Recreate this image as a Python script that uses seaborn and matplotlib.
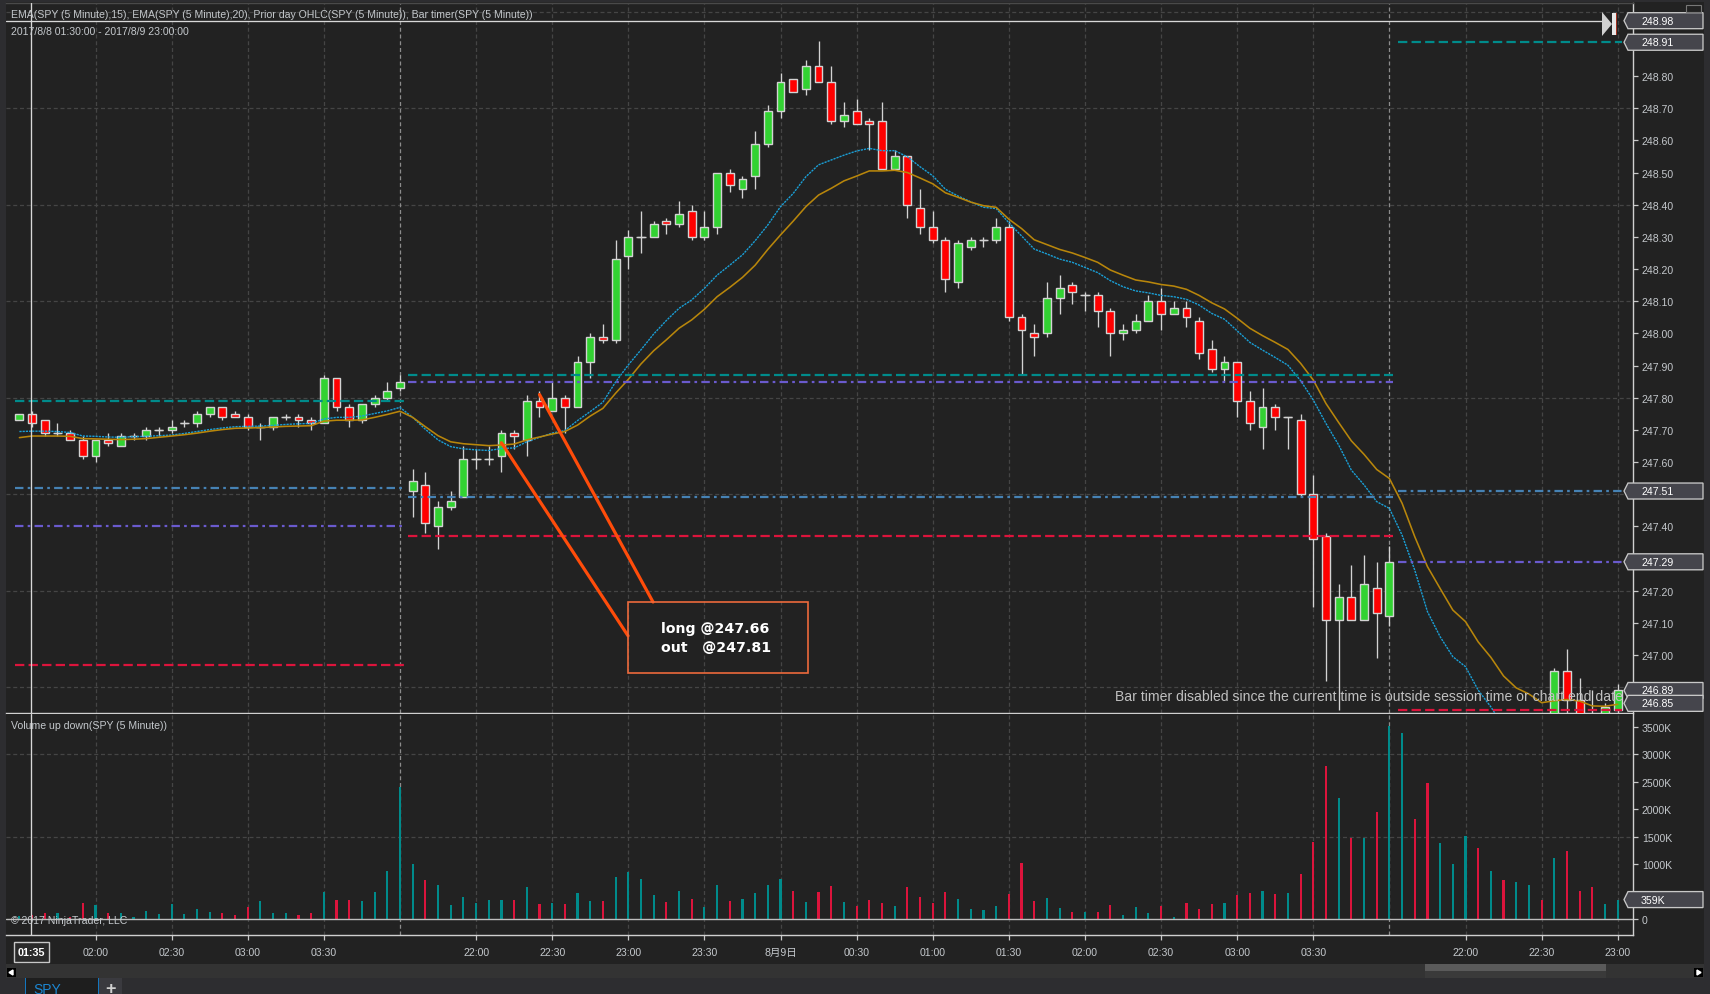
import numpy as np
import pandas as pd
import matplotlib
matplotlib.use("Agg")
import matplotlib.pyplot as plt
import seaborn as sns
from matplotlib.patches import Polygon, Rectangle
from matplotlib.transforms import IdentityTransform

# SPY 5 minute bars (None = below the visible price range)
opens = [247.73, 247.75, 247.73, 247.69, 247.69, 247.67, 247.62, 247.67, 247.65, 247.68,
         247.68, 247.70, 247.70, 247.72, 247.72, 247.75, 247.77, 247.75, 247.74, 247.71,
         247.71, 247.74, 247.74, 247.73, 247.72, 247.86, 247.77, 247.73, 247.78, 247.80,
         247.83, 247.51, 247.53, 247.40, 247.46, 247.49, 247.61, 247.61, 247.62, 247.69,
         247.67, 247.79, 247.76, 247.80, 247.77, 247.91, 247.99, 247.98, 248.24, 248.30,
         248.30, 248.35, 248.34, 248.38, 248.30, 248.33, 248.50, 248.45, 248.49, 248.59,
         248.69, 248.79, 248.76, 248.83, 248.78, 248.66, 248.69, 248.66, 248.66, 248.51,
         248.55, 248.39, 248.33, 248.29, 248.16, 248.27, 248.29, 248.29, 248.33, 248.05,
         248.00, 248.00, 248.11, 248.15, 248.12, 248.12, 248.07, 248.00, 248.01, 248.04,
         248.10, 248.06, 248.08, 248.04, 247.95, 247.89, 247.91, 247.79, 247.71, 247.77,
         247.74, 247.73, 247.50, 247.37, 247.11, 247.18, 247.11, 247.21, 247.12,
         None, None, None, None, None, None, None, None, None, None, None, None,
         246.80, 246.95, 246.86, 246.81, 246.80, 246.83]
highs = [247.75, 247.76, 247.73, 247.72, 247.70, 247.68, 247.67, 247.69, 247.69, 247.69,
         247.71, 247.71, 247.73, 247.73, 247.76, 247.77, 247.77, 247.76, 247.75, 247.72,
         247.74, 247.75, 247.75, 247.74, 247.87, 247.86, 247.78, 247.78, 247.81, 247.85,
         247.87, 247.58, 247.57, 247.48, 247.51, 247.65, 247.64, 247.65, 247.70, 247.70,
         247.81, 247.82, 247.85, 247.81, 247.93, 248.00, 248.03, 248.29, 248.32, 248.38,
         248.35, 248.36, 248.41, 248.40, 248.38, 248.50, 248.51, 248.49, 248.63, 248.71,
         248.81, 248.79, 248.85, 248.91, 248.83, 248.72, 248.73, 248.67, 248.72, 248.57,
         248.55, 248.45, 248.38, 248.30, 248.29, 248.30, 248.30, 248.36, 248.35, 248.06,
         248.03, 248.16, 248.18, 248.16, 248.13, 248.13, 248.08, 248.03, 248.06, 248.12,
         248.14, 248.10, 248.10, 248.05, 247.98, 247.93, 247.91, 247.82, 247.83, 247.78,
         247.74, 247.75, 247.56, 247.38, 247.22, 247.28, 247.31, 247.29, 247.34,
         None, None, None, None, None, None, None, None, None, None, None, None,
         246.96, 247.02, 246.93, 246.89, 246.85, 246.91]
lows = [247.73, 247.71, 247.68, 247.68, 247.67, 247.61, 247.60, 247.65, 247.65, 247.67,
        247.67, 247.68, 247.69, 247.71, 247.71, 247.74, 247.73, 247.74, 247.70, 247.67,
        247.70, 247.73, 247.71, 247.70, 247.72, 247.76, 247.71, 247.72, 247.77, 247.79,
        247.82, 247.43, 247.38, 247.33, 247.45, 247.49, 247.58, 247.59, 247.57, 247.64,
        247.62, 247.74, 247.76, 247.69, 247.77, 247.86, 247.97, 247.97, 248.20, 248.25,
        248.30, 248.31, 248.33, 248.29, 248.29, 248.31, 248.44, 248.42, 248.45, 248.58,
        248.67, 248.75, 248.74, 248.78, 248.65, 248.64, 248.65, 248.57, 248.51, 248.51,
        248.36, 248.31, 248.28, 248.13, 248.14, 248.26, 248.27, 248.28, 248.04, 247.87,
        247.93, 247.99, 248.06, 248.09, 248.07, 248.02, 247.93, 247.98, 248.00, 248.04,
        248.01, 248.06, 248.02, 247.92, 247.88, 247.85, 247.74, 247.70, 247.64, 247.70,
        247.64, 247.49, 247.15, 246.92, 246.83, 247.11, 247.11, 246.99, 247.09,
        None, None, None, None, None, None, None, None, None, None, None, None,
        246.79, 246.79, 246.79, 246.79, 246.79, 246.82]
closes = [247.75, 247.72, 247.69, 247.69, 247.67, 247.62, 247.67, 247.66, 247.68, 247.68,
          247.70, 247.70, 247.71, 247.72, 247.75, 247.77, 247.74, 247.74, 247.71, 247.71,
          247.74, 247.74, 247.73, 247.72, 247.86, 247.77, 247.73, 247.78, 247.80, 247.82,
          247.85, 247.54, 247.41, 247.46, 247.48, 247.61, 247.61, 247.61, 247.69, 247.68,
          247.79, 247.77, 247.80, 247.77, 247.91, 247.99, 247.98, 248.23, 248.30, 248.30,
          248.34, 248.34, 248.37, 248.30, 248.33, 248.50, 248.46, 248.48, 248.59, 248.69,
          248.78, 248.75, 248.83, 248.78, 248.66, 248.68, 248.65, 248.65, 248.51, 248.55,
          248.40, 248.33, 248.29, 248.17, 248.28, 248.29, 248.29, 248.33, 248.05, 248.01,
          247.99, 248.11, 248.14, 248.13, 248.12, 248.07, 248.00, 248.01, 248.04, 248.10,
          248.06, 248.08, 248.05, 247.94, 247.89, 247.91, 247.79, 247.72, 247.77, 247.74,
          247.74, 247.50, 247.36, 247.11, 247.18, 247.11, 247.22, 247.13, 247.29,
          None, None, None, None, None, None, None, None, None, None, None, None,
          246.95, 246.86, 246.80, 246.80, 246.84, 246.89]

ema15 = [247.695, 247.696, 247.696, 247.695, 247.692, 247.681, 247.680, 247.678, 247.677, 247.679,
         247.680, 247.682, 247.684, 247.689, 247.695, 247.701, 247.706, 247.710, 247.711, 247.712,
         247.714, 247.717, 247.719, 247.720, 247.734, 247.739, 247.739, 247.743, 247.751, 247.759,
         247.770, 247.739, 247.702, 247.669, 247.648, 247.641, 247.638, 247.636, 247.642, 247.644,
         247.663, 247.677, 247.690, 247.698, 247.729, 247.757, 247.786, 247.849, 247.902, 247.949,
         247.998, 248.040, 248.078, 248.104, 248.140, 248.181, 248.212, 248.244, 248.288, 248.337,
         248.394, 248.435, 248.487, 248.524, 248.539, 248.554, 248.567, 248.575, 248.568, 248.568,
         248.549, 248.518, 248.490, 248.448, 248.427, 248.409, 248.392, 248.388, 248.344, 248.303,
         248.262, 248.247, 248.231, 248.221, 248.205, 248.189, 248.164, 248.145, 248.132, 248.126,
         248.118, 248.114, 248.106, 248.088, 248.062, 248.044, 248.008, 247.972, 247.948, 247.925,
         247.901, 247.853, 247.793, 247.720, 247.653, 247.575, 247.529, 247.477, 247.456, 247.373,
         247.264, 247.135, 247.057, 246.995, 246.964, 246.891, 246.839, 246.777,
         None, None, None, None, None, None, None, None, None]
ema20 = [247.676, 247.681, 247.681, 247.681, 247.680, 247.673, 247.672, 247.671, 247.670, 247.671,
         247.673, 247.677, 247.681, 247.685, 247.690, 247.696, 247.701, 247.705, 247.706, 247.707,
         247.709, 247.711, 247.712, 247.713, 247.727, 247.730, 247.730, 247.731, 247.739, 247.748,
         247.758, 247.739, 247.710, 247.682, 247.663, 247.657, 247.654, 247.651, 247.653, 247.656,
         247.669, 247.678, 247.687, 247.695, 247.715, 247.743, 247.767, 247.814, 247.857, 247.905,
         247.946, 247.980, 248.016, 248.042, 248.075, 248.114, 248.143, 248.174, 248.212, 248.261,
         248.306, 248.349, 248.394, 248.430, 248.451, 248.474, 248.489, 248.505, 248.505, 248.507,
         248.500, 248.483, 248.465, 248.437, 248.423, 248.408, 248.397, 248.392, 248.355, 248.326,
         248.291, 248.276, 248.261, 248.250, 248.236, 248.221, 248.197, 248.181, 248.166, 248.160,
         248.152, 248.147, 248.137, 248.118, 248.095, 248.076, 248.047, 248.016, 247.993, 247.972,
         247.950, 247.907, 247.855, 247.782, 247.723, 247.666, 247.624, 247.577, 247.549, 247.472,
         247.368, 247.275, 247.207, 247.140, 247.104, 247.041, 246.993, 246.935, 246.898, 246.879,
         246.852, 246.858, 246.862, 246.857, 246.842, 246.841, 246.847]

volumes = [60, 79, 115, 115, 50, 298, 261, 115, 115, 43, 152, 97, 280, 97, 189, 134, 115, 79, 225, 335,
           115, 115, 79, 115, 500, 353, 353, 335, 500, 883, 2400, 1011, 719, 627, 262, 408, 298, 353, 353, 353,
           590, 280, 298, 280, 481, 335, 335, 773, 865, 737, 445, 317, 518, 371, 225, 627, 335, 371, 481, 627,
           737, 518, 315, 497, 606, 315, 242, 351, 297, 242, 588, 406, 297, 497, 370, 188, 170, 242, 461, 1024,
           333, 388, 206, 133, 133, 133, 261, 79, 224, 115, 242, 42, 297, 188, 279, 297, 442, 479, 515, 461,
           479, 824, 1406, 2788, 2206, 1479, 1479, 1951, 3515, 3388, 1824, 2479, 1388, 1006, 1515, 1297, 879, 715, 679, 624,
           351, 1115, 1242, 515, 588, 279, 359]
vol_dir = ("u d d u d d u d u u  u u u u u u d d d u  u u d d u d d u u u  u u d u u u u u u d "
           "u d u d u u d u u u  u d u d u u d u u u  u d u d d u d d d u  d d d d u u u u d d "
           "d u u d u d d u u u  d u d d d u d d u d  u d d d u d u d u u  d d u u u d u d u u "
           "d u d d d u u").split()

# prior day OHLC levels per session
level_values_1 = [247.79, 247.52, 247.40, 246.97]
level_values_2 = [247.87, 247.85, 247.49, 247.37]
level_values_3 = [248.905, 247.29, 247.51, 246.83]
level_colors_1 = ["#008b8b", "#4682b4", "#6a5acd", "#dc143c"]
level_colors_2 = ["#008b8b", "#6a5acd", "#4682b4", "#dc143c"]
level_colors_3 = ["#008b8b", "#6a5acd", "#4682b4", "#dc143c"]

# labels at 247.30 and 247.50 sit behind the price flags in the reference
price_ticks = [247.00, 247.10, 247.20, 247.40, 247.60, 247.70, 247.80, 247.90,
               248.00, 248.10, 248.20, 248.30, 248.40, 248.50, 248.60, 248.70, 248.80]
price_grid = [246.90, 247.20, 247.50, 247.80, 248.10, 248.40, 248.70, 249.00]
vol_ticks = [0, 1000, 1500, 2000, 2500, 3000, 3500]
vol_grid = [1500, 3000]
time_pos = [6, 12, 18, 24, 36, 42, 48, 54, 60, 66, 72, 78, 84, 90, 96, 102, 114, 120, 126]
time_labels = ["02:00", "02:30", "03:00", "03:30", "22:00", "22:30", "23:00", "23:30", "8月9日", "00:30",
               "01:00", "01:30", "02:00", "02:30", "03:00", "03:30", "22:00", "22:30", "23:00"]
session_breaks = [30, 108]
price_flags = [(248.972, "248.98"), (248.905, "248.91"), (247.51, "247.51"), (247.29, "247.29"),
               (246.89, "246.89"), (246.85, "246.85")]

W, H = 1710, 995
BG = "#222222"
OUTER = "#2d2d30"
TXT = "#c4c8cc"

df = pd.DataFrame({"open": opens, "high": highs, "low": lows, "close": closes,
                   "ema15": ema15, "ema20": ema20}, dtype=float)
df["bar"] = np.arange(len(df))
vol_df = pd.DataFrame({"bar": np.arange(len(volumes)), "volume": volumes, "dir": vol_dir})

sns.set_theme(style="dark")
plt.rcParams["font.family"] = ["Liberation Sans", "Noto Sans CJK SC", "DejaVu Sans"]
plt.rcParams["axes.unicode_minus"] = False

fig = plt.figure(figsize=(W / 100, H / 100), dpi=100, facecolor=OUTER)
ident = IdentityTransform()


def px_rect(x0, y0, x1, y1, color, z=-1, **kw):
    fig.add_artist(Rectangle((x0, H - y1), x1 - x0, y1 - y0, facecolor=color, transform=ident,
                             zorder=z, **kw))


def px_text(x, y, s, **kw):
    kw.setdefault("color", TXT)
    kw.setdefault("fontsize", 7.58)
    fig.text(x / W, 1 - y / H, s, va="center", zorder=6, **kw)


px_rect(6, 3, 1704, 965, BG, linewidth=0)

ax = fig.add_axes([6 / W, 1 - 714 / H, 1626.7 / W, 710 / H], facecolor=BG)
ax_vol = fig.add_axes([6 / W, 1 - 936 / H, 1626.7 / W, 221 / H], facecolor=BG)
xlim = (-1.056, 127.18)
grid_kw = dict(color="#454545", linewidth=0.9, linestyles=(0, (3.2, 2.2)), zorder=0)

# candles
up = df["close"] >= df["open"]
ax.vlines(df["bar"], df["low"], df["high"], color="#d3d3d3", linewidth=0.95, zorder=2)
ax.bar(df["bar"], (df["close"] - df["open"]).abs(), bottom=df[["open", "close"]].min(axis=1),
       width=0.62, color=np.where(up, "#32d232", "#ff0000"), edgecolor="#d3d3d3", linewidth=1.0, zorder=3)
doji = df[df["open"] == df["close"]]
ax.hlines(doji["close"], doji["bar"] - 0.36, doji["bar"] + 0.36, color="#d3d3d3", linewidth=0.95, zorder=3)

# moving averages
sns.lineplot(data=df, x="bar", y="ema15", ax=ax, color="#1a9fd6", linewidth=1.0, linestyle=(0, (1.6, 0.7)),
             errorbar=None, estimator=None, zorder=4)
sns.lineplot(data=df, x="bar", y="ema20", ax=ax, color="#b8860b", linewidth=1.15,
             errorbar=None, estimator=None, zorder=4)

# prior day levels
dash = (0, (4.2, 1.9))
dashdot = (0, (3.8, 1.9, 1.2, 1.9))


def draw_levels(values, colors, x0, x1):
    for v, c in zip(values, colors):
        style = dash if c in ("#008b8b", "#dc143c") else dashdot
        ax.plot([x0, x1], [v, v], color=c, linewidth=1.6, linestyle=style, zorder=5)


draw_levels(level_values_1, level_colors_1, -0.35, 30.3)
draw_levels(level_values_2, level_colors_2, 30.65, 108.3)
draw_levels(level_values_3, level_colors_3, 108.7, 126.3)

# trade annotation
ax.plot([38, 47.98], [247.66, 247.06], color="#ff4c0a", linewidth=2.3, zorder=6, solid_capstyle="round")
ax.plot([41, 49.95], [247.81, 247.165], color="#ff4c0a", linewidth=2.3, zorder=6, solid_capstyle="round")
ax.add_patch(Rectangle((47.98, 246.944), 14.19, 0.221, facecolor="none", edgecolor="#ec6a3c", linewidth=1.2, zorder=6))
ax.text(50.6, 247.055, "long @247.66\nout   @247.81", color="white", fontsize=10.2, fontweight="bold",
        ha="left", va="center", family=["DejaVu Sans"], linespacing=1.4, zorder=7)

# volume
sns.barplot(data=vol_df, x="bar", y="volume", hue="dir", palette={"u": "#008b8b", "d": "#dc143c"},
            native_scale=True, width=0.17, dodge=False, legend=False, saturation=1, linewidth=0, ax=ax_vol, zorder=3)
ax_vol.axhline(0, color="#bdbdbd", linewidth=1.0, zorder=4)

# grid and axes
for a in (ax, ax_vol):
    a.set_xlim(xlim)
    a.vlines(time_pos, 0, 1, transform=a.get_xaxis_transform(), **grid_kw)
    a.vlines(session_breaks, 0, 1, transform=a.get_xaxis_transform(), color="#8c8c8c", linewidth=0.9,
             linestyles=(0, (3.2, 2.2)), zorder=1)
    a.axvline(0.88, color="#d8d8d8", linewidth=0.95, zorder=8)
    a.set_xlabel("")
    a.set_ylabel("")
    for s in a.spines.values():
        s.set_color("#d0d0d0")
        s.set_linewidth(1.0)
    a.spines["left"].set_visible(False)
    a.yaxis.tick_right()
    a.tick_params(axis="y", colors=TXT, labelsize=7.6, length=3.6, width=0.9, pad=3, color="#c8c8c8", right=True)

ax.set_ylim(246.82, 249.027)
ax.hlines(price_grid, 0, 1, transform=ax.get_yaxis_transform(), **grid_kw)
ax.set_yticks(price_ticks, [f"{v:.2f}" for v in price_ticks])
ax.set_xticks([])
ax.spines["top"].set_color("#4a4a4a")
ax.plot([-1.056, 125.2], [248.972, 248.972], color="#d8d8d8", linewidth=0.95, zorder=8)

ax_vol.set_ylim(-285, 3733)
ax_vol.hlines(vol_grid, 0, 1, transform=ax_vol.get_yaxis_transform(), **grid_kw)
ax_vol.set_yticks(vol_ticks, ["0"] + [f"{v}K" for v in vol_ticks[1:]])
ax_vol.set_xticks(time_pos, time_labels)
ax_vol.tick_params(axis="x", colors=TXT, labelsize=7.6, length=3.6, width=0.9, pad=5, color="#c8c8c8", bottom=True)
ax_vol.spines["top"].set_visible(False)

fig.canvas.draw()


def flag(a, value, label):
    y = a.transData.transform((0, value))[1]
    pts = [(1624, y), (1628, y + 8), (1703, y + 8), (1703, y - 8), (1628, y - 8)]
    fig.add_artist(Polygon(pts, closed=True, facecolor="#45454c", edgecolor="#c8c8c8", linewidth=0.95,
                           transform=ident, zorder=5))
    fig.text(1641 / W, y / H, label, color="white", fontsize=7.6, va="center", zorder=6)


for v, t in price_flags:
    flag(ax, v, t)
flag(ax_vol, 359, "359K")

# bar marker next to the last price line
y_last = H - 25
fig.add_artist(Polygon([(1602, y_last + 12), (1612, y_last), (1602, y_last - 12)], closed=True, facecolor="#d0d0d0",
                       edgecolor="none", transform=ident, zorder=5))
px_rect(1612, 14, 1616, 36, "#e8e8e8", z=5, linewidth=0)
px_rect(1616, 14, 1617, 36, "#a03020", z=5, linewidth=0)
fig.add_artist(Rectangle((1686, H - 13), 15, 7, facecolor="none", edgecolor="#777777", linewidth=0.8,
                         transform=ident, zorder=5))

# header and footer text
px_text(11, 15, "EMA(SPY (5 Minute),15), EMA(SPY (5 Minute),20), Prior day OHLC(SPY (5 Minute)), Bar timer(SPY (5 Minute))")
px_text(11, 32, "2017/8/8 01:30:00 - 2017/8/9 23:00:00")
px_text(11, 726, "Volume up down(SPY (5 Minute))")
px_text(11, 921, "© 2017 NinjaTrader, LLC")
px_text(1115, 697, "Bar timer disabled since the current time is outside session time or chart end date",
        fontsize=10.05, color="#c0c0c0")

# time cursor box
fig.add_artist(Rectangle((13.5, H - 963), 35, 20, facecolor="#2a2a2a", edgecolor="#c8c8c8", linewidth=1.0,
                         transform=ident, zorder=5))
px_text(31, 953, "01:35", color="white", fontsize=7.8, fontweight="bold", ha="center")

# scroll bar and tabs
px_rect(6, 965, 1704, 979, "#333333", linewidth=0)
px_rect(1425, 965, 1606, 972, "#5a5a5a", z=0, linewidth=0)
px_rect(1425, 972, 1606, 979, "#3a3a3a", z=0, linewidth=0)
px_rect(7, 969, 16, 978, "#000000", z=1, linewidth=0)
px_rect(1694, 969, 1703, 978, "#000000", z=1, linewidth=0)
fig.add_artist(Polygon([(13, H - 971), (9, H - 973.5), (13, H - 976)], closed=True, facecolor="white", transform=ident, zorder=2))
fig.add_artist(Polygon([(1697, H - 971), (1701, H - 973.5), (1697, H - 976)], closed=True, facecolor="white", transform=ident, zorder=2))
px_rect(25, 979, 99, 995, "#1e1e1e", z=1, linewidth=0)
px_rect(25, 979, 26, 995, "#1477c0", z=2, linewidth=0)
px_rect(98, 979, 99, 995, "#1477c0", z=2, linewidth=0)
px_rect(99, 979, 122, 995, "#3a3a3f", z=1, linewidth=0)
px_text(33, 990, "SPY", color="#1c86d1", fontsize=10)
px_text(110, 990, "+", color="#d0d0d0", fontsize=13, ha="center", fontweight="bold")

fig.savefig("out.png", dpi=100, facecolor=OUTER)
